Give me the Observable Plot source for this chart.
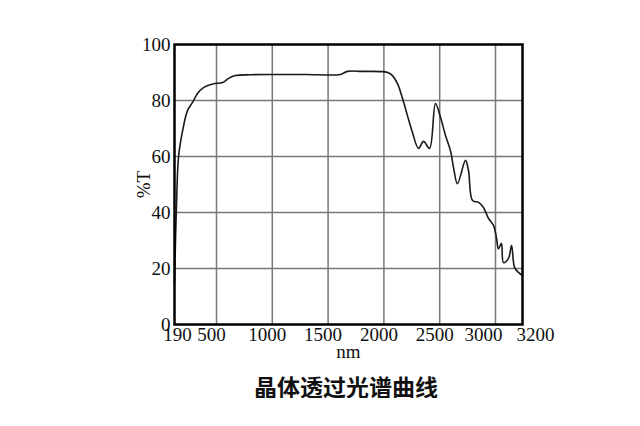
<!DOCTYPE html>
<html>
<head>
<meta charset="utf-8">
<script src="https://cdn.jsdelivr.net/npm/d3@7"></script>
<script src="https://cdn.jsdelivr.net/npm/@observablehq/plot@0.6"></script>
<style>
  body { margin: 0; background: #fff; }
  #chart svg { display: block; overflow: visible; }
  #title { margin-top: 6px; padding-left: 172px; width: 348px; text-align: center;
    font-family: "Noto Sans CJK SC", sans-serif; font-weight: bold; font-size: 23px; line-height: 24px; color: #111; }
</style>
</head>
<body>
<div id="chart"></div>
<div id="title">晶体透过光谱曲线</div>
<script>
const wavelength = [190, 205, 220, 249, 286, 323, 360, 404, 478, 554, 608, 670, 805, 1000, 1300, 1611, 1674, 1800, 1996, 2040, 2077, 2122, 2167, 2211, 2256, 2310, 2355, 2409, 2462, 2507, 2552, 2597, 2624, 2659, 2731, 2758, 2794, 2848, 2892, 2937, 2982, 3007, 3022, 3044, 3059, 3096, 3119, 3141, 3170, 3200];
const transmittance = [15, 43, 60, 69, 76.4, 79.3, 82.5, 84.6, 86, 86.4, 87.9, 88.9, 89.2, 89.3, 89.3, 89.3, 90.4, 90.4, 90.3, 89.9, 88.9, 86, 80.7, 74.6, 68.6, 62.9, 65.4, 62.9, 78.9, 74, 67.5, 62, 56, 50.3, 58.6, 55, 44.3, 43.6, 41.8, 37.9, 35.4, 31, 27, 29, 22.1, 23.6, 28.2, 20.4, 18.6, 17.5];
const xTicksStart = [190];
const xTicksMiddle = [500, 1000, 1500, 2000, 2500];
const xTickNearEnd = [3000];
const xTickEnd = [3200];
const xGrid = [500, 1000, 1500, 2000, 2500, 3000];
const yTicks = [0, 20, 40, 60, 80, 100];
const yGrid = [20, 40, 60, 80];

const data = wavelength.map((w, i) => ({w, t: transmittance[i]}));
const fmt = d => String(d);
const tickOpts = {tickSize: 0, tickPadding: 3, tickFormat: fmt, label: null, fontSize: 19};

const chart = Plot.plot({
  width: 640,
  height: 368,
  marginTop: 44,
  marginBottom: 44,
  marginLeft: 174,
  marginRight: 118,
  style: {fontFamily: "'Liberation Serif', 'Times New Roman', serif", fontSize: "19px", color: "#111", background: "#fff"},
  x: {type: "linear", domain: [190, 500, 3000, 3200], range: [174, 216, 495, 522]},
  y: {domain: [0, 100]},
  marks: [
    Plot.gridX(xGrid, {stroke: "#777", strokeOpacity: 1, strokeWidth: 1.5}),
    Plot.gridY(yGrid, {stroke: "#777", strokeOpacity: 1, strokeWidth: 1.5}),
    Plot.axisX({...tickOpts, ticks: xTicksStart, dx: 3}),
    Plot.axisX({...tickOpts, ticks: xTicksMiddle, dx: -5}),
    Plot.axisX({...tickOpts, ticks: xTickNearEnd, dx: -12}),
    Plot.axisX({...tickOpts, ticks: xTickEnd, dx: 13, label: "nm", labelAnchor: "center", labelArrow: "none", labelOffset: 33}),
    Plot.axisY({ticks: yTicks, tickSize: 0, tickPadding: 4, tickFormat: fmt, label: "%T", labelAnchor: "center", labelArrow: "none", labelOffset: 38, fontSize: 19}),
    Plot.line(data, {x: "w", y: "t", curve: "catmull-rom", stroke: "#1a1a1a", strokeWidth: 1.6}),
    Plot.frame({stroke: "#000", strokeWidth: 2.5})
  ]
});
document.getElementById("chart").appendChild(chart);
</script>
</body>
</html>
